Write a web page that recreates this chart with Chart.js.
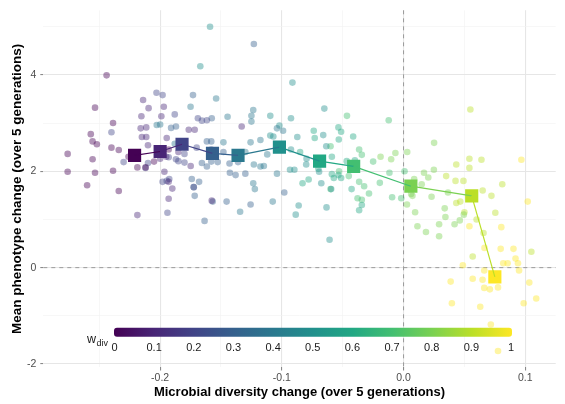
<!DOCTYPE html>
<html>
<head>
<meta charset="utf-8">
<script src="https://cdn.jsdelivr.net/npm/chart.js@4.4.0/dist/chart.umd.min.js"></script>
<style>
  html, body { margin: 0; padding: 0; background: #fff; }
</style>
</head>
<body>
<canvas id="chart" width="565" height="404"></canvas>
<script>
// w_div levels and their viridis colours
const wDiv = [0, 0.1, 0.2, 0.3, 0.4, 0.5, 0.6, 0.7, 0.8, 0.9, 1];
const viridis = ['#440154', '#482576', '#414487', '#35608D', '#2A788E', '#21908C',
                 '#22A884', '#43BF71', '#7AD151', '#BBDF27', '#FDE725'];

// mean of each w_div group (squares)
const meanX = [-0.221, -0.200, -0.182, -0.157, -0.136, -0.102, -0.069, -0.041, 0.006, 0.056, 0.075];
const meanY = [2.33, 2.41, 2.56, 2.37, 2.33, 2.50, 2.21, 2.10, 1.69, 1.49, -0.19];

// individual runs, one list per w_div level: [diversity change, phenotype change]
const runs0 = [[-0.276,2.36],[-0.276,1.99],[-0.260,1.71],[-0.257,2.77],[-0.2555,2.62],[-0.252,2.56],
  [-0.2555,2.25],[-0.2535,1.97],[-0.240,2.49],[-0.234,2.44],[-0.2387,2.01],[-0.234,1.59],[-0.2187,2.08],
  [-0.212,2.08],[-0.244,3.99],[-0.2535,3.32],[-0.2387,3.00],[-0.226,2.30],[-0.205,2.20],[-0.193,2.45]];
const runs1 = [[-0.214,3.48],[-0.2095,3.31],[-0.197,3.34],[-0.2154,3.14],[-0.199,3.14],[-0.216,2.89],
  [-0.2114,2.91],[-0.215,2.71],[-0.2114,2.71],[-0.1946,2.69],[-0.210,2.54],[-0.200,2.26],[-0.2187,1.09],
  [-0.1765,2.86],[-0.1716,2.86],[-0.1749,2.11],[-0.1965,1.99],[-0.193,1.78],[-0.190,1.64],[-0.193,1.43],
  [-0.1576,1.39],[-0.185,2.40],[-0.195,2.30],[-0.133,2.93]];
const runs2 = [[-0.203,3.63],[-0.198,3.58],[-0.188,3.18],[-0.240,2.81],[-0.230,2.19],[-0.180,2.36],
  [-0.212,2.07],[-0.210,2.17],[-0.194,1.14],[-0.1925,1.84],[-0.198,1.78],[-0.1946,1.80],[-0.187,2.25],
  [-0.185,2.21],[-0.169,3.10],[-0.1657,3.05],[-0.1616,3.06],[-0.193,2.29],[-0.1724,1.67],[-0.180,2.18],
  [-0.170,2.49],[-0.158,2.45]];
const runs3 = [[-0.173,3.58],[-0.123,4.64],[-0.1576,3.10],[-0.191,2.90],[-0.187,2.93],[-0.158,2.62],
  [-0.1616,2.62],[-0.1657,2.17],[-0.158,2.20],[-0.1527,2.19],[-0.174,1.84],[-0.168,1.78],[-0.1724,1.67],
  [-0.1716,1.49],[-0.143,2.16],[-0.138,1.92],[-0.1427,1.97],[-0.130,1.95],[-0.136,2.19],[-0.1635,0.97],
  [-0.1454,1.37],[-0.1568,1.37],[-0.1257,1.31],[-0.1616,2.10],[-0.098,1.56],[-0.148,2.40]];
const runs4 = [[-0.154,3.51],[-0.175,3.34],[-0.1235,3.27],[-0.1446,3.13],[-0.125,3.15],[-0.125,3.03],
  [-0.200,2.97],[-0.2028,2.96],[-0.148,2.60],[-0.1257,2.60],[-0.1176,2.65],[-0.188,2.57],[-0.123,2.14],
  [-0.1176,2.10],[-0.1148,2.11],[-0.1235,1.75],[-0.1222,1.63],[-0.1343,1.16],[-0.1075,1.37],[-0.104,2.89],
  [-0.099,2.84],[-0.104,1.95],[-0.130,2.40],[-0.112,2.35]];
const runs5 = [[-0.159,5.00],[-0.167,4.18],[-0.0913,3.84],[-0.0651,3.30],[-0.1095,3.15],[-0.0925,3.10],
  [-0.102,2.95],[-0.1095,2.74],[-0.0873,2.71],[-0.107,2.72],[-0.0925,2.45],[-0.0933,2.03],[-0.0897,2.03],
  [-0.0797,2.26],[-0.080,2.14],[-0.0694,1.99],[-0.0676,1.75],[-0.0635,2.52],[-0.066,2.75],[-0.0862,1.29],
  [-0.0886,1.10],[-0.0633,1.25],[-0.0608,0.58],[-0.0595,1.63],[-0.100,2.55]];
const runs6 = [[-0.0738,2.84],[-0.073,2.69],[-0.0535,2.91],[-0.0513,2.82],[-0.0532,2.66],[-0.0414,2.72],
  [-0.0589,2.30],[-0.078,1.83],[-0.083,1.75],[-0.0467,2.21],[-0.040,2.23],[-0.0573,1.86],[-0.0535,1.92],
  [-0.0513,1.86],[-0.0589,1.94],[-0.0365,1.19],[-0.0343,1.30],[-0.085,2.40],[-0.070,2.05],[-0.0427,1.63]];
const runs7 = [[-0.0465,3.15],[-0.0365,2.45],[-0.0343,2.34],[-0.0365,1.78],[-0.0324,1.69],[-0.0378,1.44],
  [-0.0343,1.41],[-0.0284,1.54],[-0.0122,3.06],[-0.0195,1.76],[-0.0116,1.97],[-0.0094,1.46],[-0.0019,1.44],
  [0.0008,2.00],[-0.060,2.52],[-0.053,2.00],[-0.045,1.90],[-0.025,2.20],[-0.060,1.63]];
const runs8 = [[-0.0189,2.30],[-0.0102,2.25],[-0.0067,2.38],[0.003,2.40],[0.0251,2.59],[0.0149,1.73],
  [0.0168,1.97],[0.0203,1.87],[0.0249,2.03],[0.0062,1.53],[0.0073,1.49],[0.023,1.47],[0.0365,1.56],
  [0.0028,1.31],[0.0095,1.15],[0.0114,0.86],[0.0184,0.74],[0.0292,0.90],[0.0292,0.65],[0.0338,1.23],
  [0.0344,1.05],[0.0419,0.90],[0.0462,0.98],[0.0495,1.10],[0.0087,1.84]];
const runs9 = [[0.0549,3.28],[0.0541,2.26],[0.0541,2.07],[0.064,2.24],[0.0433,2.14],[0.0427,1.80],
  [0.0492,1.80],[0.0722,1.49],[0.0811,1.73],[0.0433,1.34],[0.0466,1.37],[0.0657,0.72],[0.0754,1.14],
  [0.0568,0.23],[0.105,0.33],[0.060,1.00],[0.065,1.60],[0.035,1.90],[0.050,1.15]];
const runs10 = [[0.0968,2.24],[0.102,1.37],[0.0541,0.86],[0.0803,0.84],[0.0665,0.41],[0.0798,0.39],
  [0.0903,0.39],[0.0487,0.05],[0.0663,-0.06],[0.0819,0.09],[0.0855,0.09],[0.092,0.19],[0.094,0.09],
  [0.0949,-0.06],[0.0387,-0.29],[0.0568,-0.23],[0.0649,-0.25],[0.0663,-0.42],[0.0709,-0.45],[0.0776,-0.41],
  [0.1033,-0.31],[0.109,-0.64],[0.0987,-0.74],[0.0397,-0.74],[0.063,-0.81],[0.0717,-1.18],[0.0776,-1.73]];
const runsByLevel = [runs0, runs1, runs2, runs3, runs4, runs5, runs6, runs7, runs8, runs9, runs10];

// axis breaks
const xMajor = [-0.2, -0.1, 0, 0.1];
const xMinor = [-0.25, -0.15, -0.05, 0.05];
const yMajor = [-2, 0, 2, 4];
const yMinor = [-1, 1, 3, 5];
const barLabels = ['0', '0.1', '0.2', '0.3', '0.4', '0.5', '0.6', '0.7', '0.8', '0.9', '1'];

const FONT = "'Liberation Sans', Arial, sans-serif";

function hexAlpha(hex, a) {
    const n = parseInt(hex.slice(1), 16);
    return `rgba(${n >> 16},${(n >> 8) & 255},${n & 255},${a})`;
}
const isMajor = (list, v) => list.some(m => Math.abs(m - v) < 1e-9);

const datasets = runsByLevel.map((runs, i) => ({
    label: 'w_div ' + wDiv[i],
    data: runs.map(p => ({ x: p[0], y: p[1] })),
    backgroundColor: hexAlpha(viridis[i], 0.42),
    borderWidth: 0,
    pointRadius: 3.3,
    order: 2
}));
const means = meanX.map((x, i) => ({ x, y: meanY[i] }));
datasets.push({
    label: 'means',
    data: means,
    pointStyle: 'rect',
    pointRadius: 9.3,
    backgroundColor: viridis,
    borderColor: viridis,
    borderWidth: 0,
    order: 1
});
datasets.push({
    label: 'trend',
    data: means,
    showLine: true,
    pointRadius: 0,
    borderWidth: 1.2,
    segment: { borderColor: ctx => viridis[ctx.p0DataIndex] },
    order: 0
});

// dashed reference lines at 0
const zeroLines = {
    id: 'zeroLines',
    beforeDatasetsDraw(chart) {
        const { ctx, chartArea: a, scales: { x, y } } = chart;
        ctx.save();
        ctx.strokeStyle = '#9a9a9a';
        ctx.lineWidth = 1;
        ctx.setLineDash([4, 4]);
        const px = x.getPixelForValue(0), py = y.getPixelForValue(0);
        ctx.beginPath();
        ctx.moveTo(px, a.top); ctx.lineTo(px, a.bottom);
        ctx.moveTo(a.left, py); ctx.lineTo(a.right, py);
        ctx.stroke();
        ctx.restore();
    }
};

// colour bar legend inside the panel
const colourBar = {
    id: 'colourBar',
    afterDraw(chart) {
        const { ctx } = chart;
        const x0 = 114, x1 = 512, yTop = 327.7, h = 9;
        const l0 = 114.5, l1 = 511;
        ctx.save();
        const g = ctx.createLinearGradient(x0, 0, x1, 0);
        viridis.forEach((c, i) => g.addColorStop(wDiv[i], c));
        ctx.fillStyle = g;
        ctx.beginPath();
        ctx.roundRect(x0, yTop, x1 - x0, h, 3);
        ctx.fill();
        ctx.fillStyle = '#1a1a1a';
        ctx.font = `11px ${FONT}`;
        ctx.textAlign = 'center';
        ctx.textBaseline = 'middle';
        barLabels.forEach((t, i) => ctx.fillText(t, l0 + (l1 - l0) * wDiv[i], 347.5));
        ctx.textAlign = 'left';
        ctx.textBaseline = 'alphabetic';
        ctx.font = `12.5px ${FONT}`;
        ctx.fillText('w', 87, 343);
        ctx.font = `9px ${FONT}`;
        ctx.fillText('div', 96.5, 346);
        ctx.restore();
    }
};

function gridOpts(major) {
    return {
        color: c => isMajor(major, c.tick.value) ? '#e6e6e6' : '#f2f2f2',
        lineWidth: c => isMajor(major, c.tick.value) ? 1.1 : 0.6,
        tickColor: c => isMajor(major, c.tick.value) ? '#8a8a8a' : 'rgba(0,0,0,0)',
        tickLength: 3,
        drawTicks: true
    };
}

new Chart(document.getElementById('chart'), {
    type: 'scatter',
    data: { datasets },
    options: {
        responsive: false,
        animation: false,
        layout: { padding: { top: 6.8, right: 2, left: 0, bottom: 0 } },
        plugins: { legend: { display: false }, tooltip: { enabled: false } },
        scales: {
            x: {
                type: 'linear',
                min: -0.296,
                max: 0.125,
                afterBuildTicks: s => { s.ticks = [...xMinor, ...xMajor].sort((a, b) => a - b).map(v => ({ value: v })); },
                afterFit: s => { s.height = 36.6; },
                border: { display: false },
                grid: gridOpts(xMajor),
                ticks: {
                    autoSkip: false,
                    maxRotation: 0,
                    padding: 1,
                    color: '#4d4d4d',
                    font: { family: FONT, size: 10.5 },
                    callback: v => isMajor(xMajor, v) ? v.toFixed(1) : ''
                },
                title: {
                    display: true,
                    text: 'Microbial diversity change (over 5 generations)',
                    color: '#000',
                    font: { family: FONT, size: 13, weight: 'bold' },
                    padding: { top: 0, bottom: 4.2 }
                }
            },
            y: {
                type: 'linear',
                min: -2.07,
                max: 5.34,
                afterBuildTicks: s => { s.ticks = [...yMinor, ...yMajor].sort((a, b) => a - b).map(v => ({ value: v })); },
                afterFit: s => { s.width = 43.3; },
                border: { display: false },
                grid: gridOpts(yMajor),
                ticks: {
                    autoSkip: false,
                    padding: 4,
                    color: '#4d4d4d',
                    font: { family: FONT, size: 10.5 },
                    callback: v => isMajor(yMajor, v) ? String(v) : ''
                },
                title: {
                    display: true,
                    text: 'Mean phenotype change (over 5 generations)',
                    color: '#000',
                    font: { family: FONT, size: 13.5, weight: 'bold' },
                    padding: { top: 9.5, bottom: 0 }
                }
            }
        }
    },
    plugins: [zeroLines, colourBar]
});
</script>
</body>
</html>
